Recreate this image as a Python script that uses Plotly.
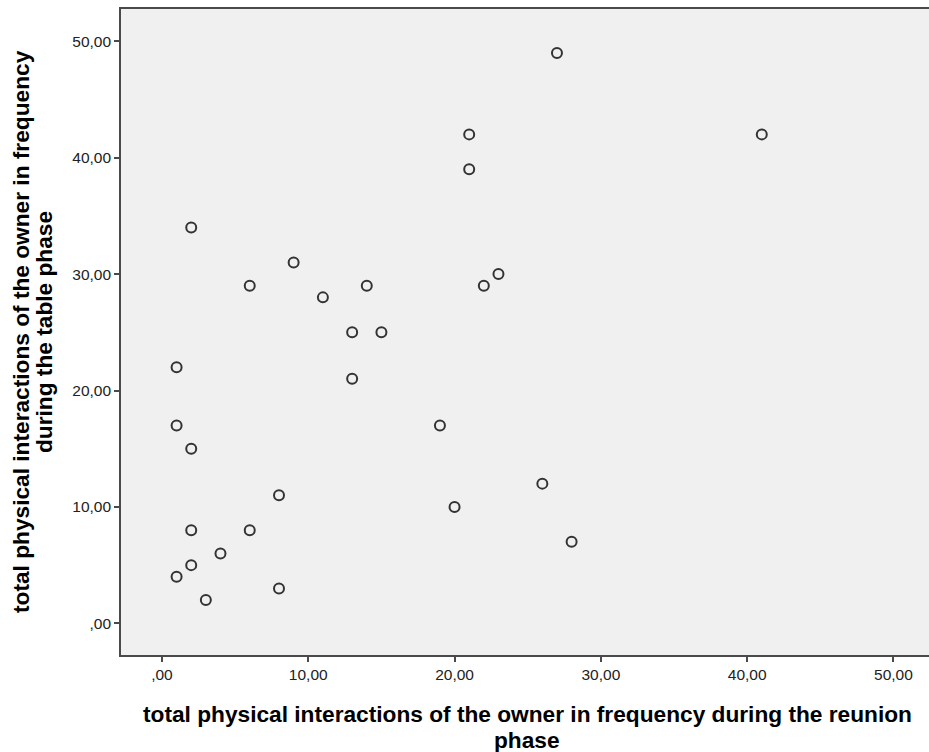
import plotly.graph_objects as go

# Owner's physical interactions (frequency) per subject
reunion_phase = [27, 21, 41, 21, 2, 9, 23, 6, 14, 22, 11, 13, 15, 1, 13,
                 1, 19, 2, 26, 8, 20, 28, 2, 6, 4, 2, 1, 3, 8]
table_phase = [49, 42, 42, 39, 34, 31, 30, 29, 29, 29, 28, 25, 25, 22, 21,
               17, 17, 15, 12, 11, 10, 7, 8, 8, 6, 5, 4, 2, 3]

tick_vals = [0, 10, 20, 30, 40, 50]
tick_text = [",00", "10,00", "20,00", "30,00", "40,00", "50,00"]

x_title_lines = ["total physical interactions of the owner in frequency during the reunion",
                 "phase"]
y_title_lines = ["total physical interactions of the owner in frequency",
                 "during the table phase"]

FONT = "Liberation Sans, Arial, sans-serif"
AXIS_COLOR = "#4a4a4a"

fig = go.Figure()
fig.add_trace(go.Scatter(
    x=reunion_phase, y=table_phase, mode="markers",
    marker=dict(symbol="circle-open", size=10, color="#333333",
                line=dict(width=2, color="#333333")),
    showlegend=False, hoverinfo="x+y",
))

axis_common = dict(
    showgrid=False, zeroline=False, showline=True, linecolor=AXIS_COLOR,
    linewidth=1.6, ticks="outside", ticklen=5, tickwidth=1.6, tickcolor=AXIS_COLOR,
    tickvals=tick_vals, ticktext=tick_text,
    tickfont=dict(family=FONT, size=15.5, color="#222222"),
)

fig.update_xaxes(range=[-2.8, 52.43], mirror=True, **axis_common)
fig.update_yaxes(range=[-2.72, 52.77], mirror=False, **axis_common)

title_font = dict(family=FONT, size=22.7, color="#000000")
annotations = []
# horizontal title lines, stacked below the plot
for i, (line, shift) in enumerate(zip(x_title_lines, [-59, -85])):
    annotations.append(dict(
        text="<b>%s</b>" % line, xref="paper", yref="paper", x=0.5025, y=0,
        xanchor="center", yanchor="middle", yshift=shift,
        showarrow=False, font=title_font, borderpad=0,
    ))
# rotated title lines, left of the plot
for i, line in enumerate(y_title_lines):
    annotations.append(dict(
        text="<b>%s</b>" % line, xref="paper", yref="paper", x=0, y=0.5,
        xanchor="center", yanchor="middle", xshift=-100 + 23 * i, textangle=-90,
        showarrow=False, font=title_font, borderpad=0,
    ))

fig.update_layout(
    width=929, height=752,
    margin=dict(l=121, r=0, t=9, b=97),
    paper_bgcolor="white", plot_bgcolor="#f0f0f0",
    font=dict(family=FONT),
    annotations=annotations,
)

fig.write_html("out.html")
